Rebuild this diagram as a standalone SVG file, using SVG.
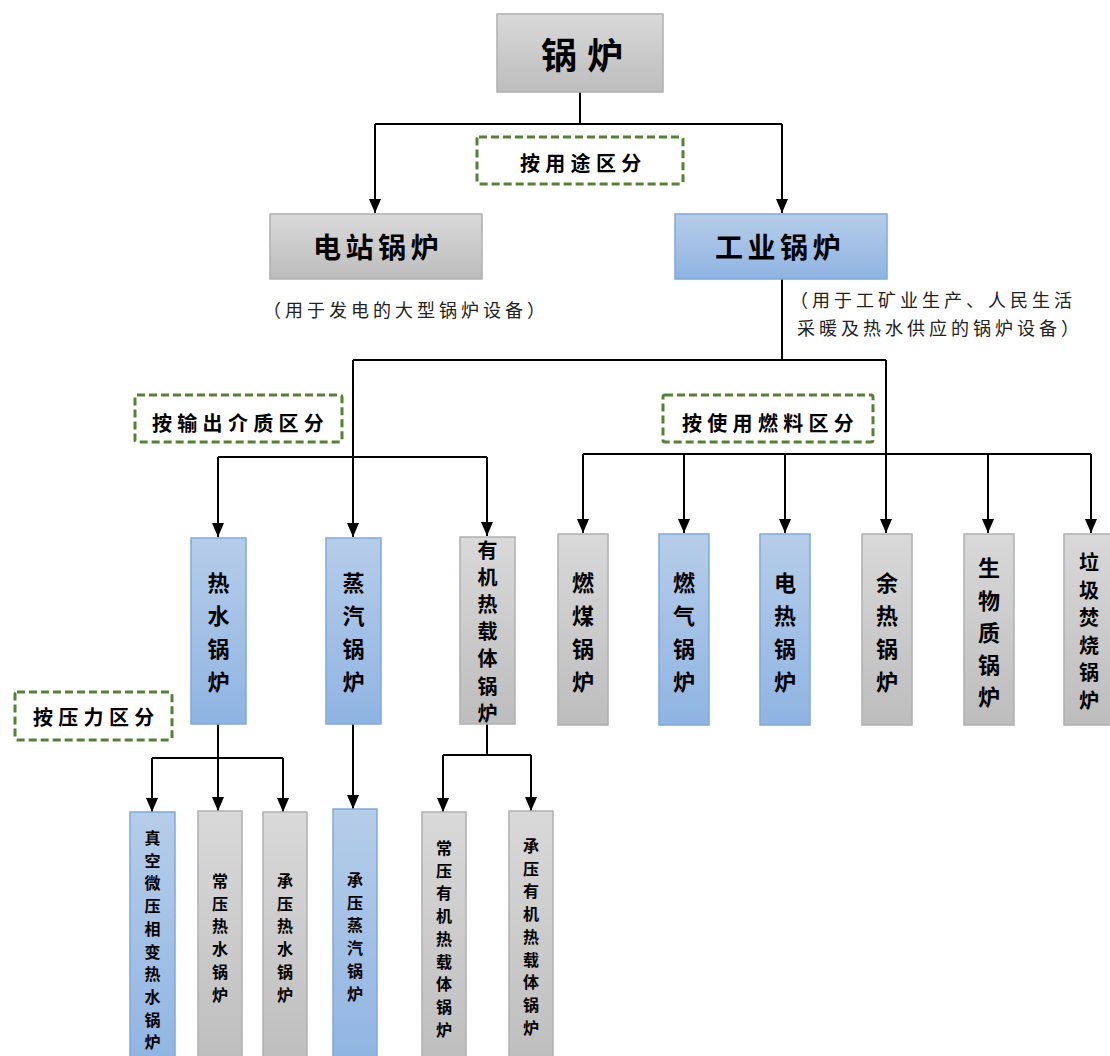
<svg xmlns="http://www.w3.org/2000/svg" width="1110" height="1056" viewBox="0 0 1110 1056">
<defs>
<linearGradient id="gGray" x1="0" y1="0" x2="0" y2="1"><stop offset="0" stop-color="#d9d9d9"/><stop offset="1" stop-color="#bdbdbd"/></linearGradient>
<linearGradient id="gBlue" x1="0" y1="0" x2="0" y2="1"><stop offset="0" stop-color="#b6cde9"/><stop offset="1" stop-color="#8fb4e2"/></linearGradient>
<marker id="arr" markerUnits="userSpaceOnUse" markerWidth="14" markerHeight="14" viewBox="0 0 14 14" refX="14" refY="7" orient="auto"><path d="M0,1 L14,7 L0,13 Z" fill="#000"/></marker>
<style>
.gray{fill:url(#gGray);stroke:#b0b0b0;stroke-width:1.5}
.blue{fill:url(#gBlue);stroke:#7fa9dc;stroke-width:1.5}
.dash{fill:#fff;stroke:#548235;stroke-width:3;stroke-dasharray:8 4}
.c{fill:none;stroke:#000;stroke-width:2}
.t{font-family:"Noto Sans CJK SC","Noto Sans CJK TC",sans-serif;fill:#000}
.b{font-weight:bold}
.v22{font-size:22px;font-weight:bold;text-anchor:middle}
.v20{font-size:20px;font-weight:bold;text-anchor:middle}
.v16{font-size:16px;font-weight:bold;text-anchor:middle}
.lab{font-size:20px;font-weight:bold;letter-spacing:5.3px}
.cap{font-size:18px;letter-spacing:4px;fill:#222}
</style>
</defs>
<rect width="1110" height="1056" fill="#fff"/>

<g id="connectors">
<path class="c" d="M580 92 V124 M375 124 H782"/>
<path class="c" d="M375 124 V213" marker-end="url(#arr)"/>
<path class="c" d="M782 124 V213" marker-end="url(#arr)"/>
<path class="c" d="M782 279 V360 M353 360 H886 M218 457 H487 M583 454 H1091"/>
<path class="c" d="M353 360 V537" marker-end="url(#arr)"/>
<path class="c" d="M886 360 V533" marker-end="url(#arr)"/>
<path class="c" d="M218 457 V537" marker-end="url(#arr)"/>
<path class="c" d="M487 457 V536" marker-end="url(#arr)"/>
<path class="c" d="M583 454 V533" marker-end="url(#arr)"/>
<path class="c" d="M684 454 V533" marker-end="url(#arr)"/>
<path class="c" d="M785 454 V533" marker-end="url(#arr)"/>
<path class="c" d="M988 454 V533" marker-end="url(#arr)"/>
<path class="c" d="M1091 454 V533" marker-end="url(#arr)"/>
<path class="c" d="M218 724 V758 M152 758 H283 M487 724 V755 M443 755 H531"/>
<path class="c" d="M152 758 V812" marker-end="url(#arr)"/>
<path class="c" d="M218 758 V811" marker-end="url(#arr)"/>
<path class="c" d="M283 758 V812" marker-end="url(#arr)"/>
<path class="c" d="M353 724 V809" marker-end="url(#arr)"/>
<path class="c" d="M443 755 V812" marker-end="url(#arr)"/>
<path class="c" d="M531 755 V811" marker-end="url(#arr)"/>
</g>

<g id="root"><rect class="gray" x="497" y="14" width="166" height="78"/><text class="t b" x="541" y="69" font-size="36" letter-spacing="10">锅炉</text></g>

<g id="label-use"><rect class="dash" x="477" y="137" width="206" height="47" rx="2"/><text class="t lab" x="520" y="171">按用途区分</text></g>

<g id="power"><rect class="gray" x="270" y="214" width="212" height="65"/><text class="t b" x="313" y="258" font-size="28" letter-spacing="4.5">电站锅炉</text></g>
<g id="industrial"><rect class="blue" x="675" y="214" width="212" height="65"/><text class="t b" x="715" y="258" font-size="28" letter-spacing="4.5">工业锅炉</text></g>

<g id="cap-power"><text class="t cap" x="263" y="317">（用于发电的大型锅炉设备）</text></g>
<g id="cap-ind"><text class="t cap" x="790" y="307">（用于工矿业生产、人民生活</text><text class="t cap" x="797" y="335">采暖及热水供应的锅炉设备）</text></g>

<g id="label-medium"><rect class="dash" x="135" y="395" width="207" height="47" rx="2"/><text class="t lab" x="152" y="431">按输出介质区分</text></g>
<g id="label-fuel"><rect class="dash" x="663" y="395" width="210" height="47" rx="2"/><text class="t lab" x="682" y="431">按使用燃料区分</text></g>
<g id="label-pressure"><rect class="dash" x="15" y="692" width="157" height="48" rx="2"/><text class="t lab" x="33" y="725">按压力区分</text></g>

<g id="hotwater"><rect class="blue" x="191" y="538" width="55" height="186"/><text class="t v22"><tspan x="218.5" y="591">热</tspan><tspan x="218.5" y="624">水</tspan><tspan x="218.5" y="657">锅</tspan><tspan x="218.5" y="690">炉</tspan></text></g>
<g id="steam"><rect class="blue" x="326" y="538" width="55" height="186"/><text class="t v22"><tspan x="353.5" y="591">蒸</tspan><tspan x="353.5" y="624">汽</tspan><tspan x="353.5" y="657">锅</tspan><tspan x="353.5" y="690">炉</tspan></text></g>
<g id="organic"><rect class="gray" x="460" y="537" width="55" height="187"/><text class="t v20"><tspan x="487.5" y="557.6">有</tspan><tspan x="487.5" y="584.8">机</tspan><tspan x="487.5" y="612">热</tspan><tspan x="487.5" y="639.2">载</tspan><tspan x="487.5" y="666.4">体</tspan><tspan x="487.5" y="693.6">锅</tspan><tspan x="487.5" y="720.8">炉</tspan></text></g>

<g id="coal"><rect class="gray" x="558" y="534" width="50" height="191"/><text class="t v22"><tspan x="583" y="591">燃</tspan><tspan x="583" y="624">煤</tspan><tspan x="583" y="657">锅</tspan><tspan x="583" y="690">炉</tspan></text></g>
<g id="gas"><rect class="blue" x="659" y="534" width="50" height="191"/><text class="t v22"><tspan x="684" y="591">燃</tspan><tspan x="684" y="624">气</tspan><tspan x="684" y="657">锅</tspan><tspan x="684" y="690">炉</tspan></text></g>
<g id="electric"><rect class="blue" x="760" y="534" width="50" height="191"/><text class="t v22"><tspan x="785" y="591">电</tspan><tspan x="785" y="624">热</tspan><tspan x="785" y="657">锅</tspan><tspan x="785" y="690">炉</tspan></text></g>
<g id="waste-heat"><rect class="gray" x="862" y="534" width="50" height="191"/><text class="t v22"><tspan x="887" y="591">余</tspan><tspan x="887" y="624">热</tspan><tspan x="887" y="657">锅</tspan><tspan x="887" y="690">炉</tspan></text></g>
<g id="biomass"><rect class="gray" x="964" y="534" width="50" height="191"/><text class="t v22"><tspan x="989" y="576">生</tspan><tspan x="989" y="609">物</tspan><tspan x="989" y="641">质</tspan><tspan x="989" y="673">锅</tspan><tspan x="989" y="705">炉</tspan></text></g>
<g id="garbage"><rect class="gray" x="1064" y="534" width="50" height="191"/><text class="t v20"><tspan x="1089" y="570">垃</tspan><tspan x="1089" y="598">圾</tspan><tspan x="1089" y="625">焚</tspan><tspan x="1089" y="653">烧</tspan><tspan x="1089" y="680">锅</tspan><tspan x="1089" y="708">炉</tspan></text></g>

<g id="vacuum"><rect class="blue" x="130" y="812" width="45" height="260"/><text class="t v16"><tspan x="152.5" y="844">真</tspan><tspan x="152.5" y="866.7">空</tspan><tspan x="152.5" y="889.4">微</tspan><tspan x="152.5" y="912.1">压</tspan><tspan x="152.5" y="934.8">相</tspan><tspan x="152.5" y="957.5">变</tspan><tspan x="152.5" y="980.2">热</tspan><tspan x="152.5" y="1002.9">水</tspan><tspan x="152.5" y="1025.6">锅</tspan><tspan x="152.5" y="1048.3">炉</tspan></text></g>
<g id="atm-hotwater"><rect class="gray" x="198" y="811" width="44" height="260"/><text class="t v16"><tspan x="220" y="887">常</tspan><tspan x="220" y="909.7">压</tspan><tspan x="220" y="932.4">热</tspan><tspan x="220" y="955.1">水</tspan><tspan x="220" y="977.8">锅</tspan><tspan x="220" y="1000.5">炉</tspan></text></g>
<g id="press-hotwater"><rect class="gray" x="263" y="812" width="44" height="260"/><text class="t v16"><tspan x="285" y="887">承</tspan><tspan x="285" y="909.7">压</tspan><tspan x="285" y="932.4">热</tspan><tspan x="285" y="955.1">水</tspan><tspan x="285" y="977.8">锅</tspan><tspan x="285" y="1000.5">炉</tspan></text></g>
<g id="press-steam"><rect class="blue" x="333" y="809" width="44" height="260"/><text class="t v16"><tspan x="355" y="886">承</tspan><tspan x="355" y="908.7">压</tspan><tspan x="355" y="931.4">蒸</tspan><tspan x="355" y="954.1">汽</tspan><tspan x="355" y="976.8">锅</tspan><tspan x="355" y="999.5">炉</tspan></text></g>
<g id="atm-organic"><rect class="gray" x="422" y="812" width="44" height="260"/><text class="t v16"><tspan x="444" y="854">常</tspan><tspan x="444" y="876.7">压</tspan><tspan x="444" y="899.4">有</tspan><tspan x="444" y="922.1">机</tspan><tspan x="444" y="944.8">热</tspan><tspan x="444" y="967.5">载</tspan><tspan x="444" y="990.2">体</tspan><tspan x="444" y="1012.9">锅</tspan><tspan x="444" y="1035.6">炉</tspan></text></g>
<g id="press-organic"><rect class="gray" x="509" y="811" width="44" height="260"/><text class="t v16"><tspan x="531" y="852">承</tspan><tspan x="531" y="874.7">压</tspan><tspan x="531" y="897.4">有</tspan><tspan x="531" y="920.1">机</tspan><tspan x="531" y="942.8">热</tspan><tspan x="531" y="965.5">载</tspan><tspan x="531" y="988.2">体</tspan><tspan x="531" y="1010.9">锅</tspan><tspan x="531" y="1033.6">炉</tspan></text></g>
</svg>
